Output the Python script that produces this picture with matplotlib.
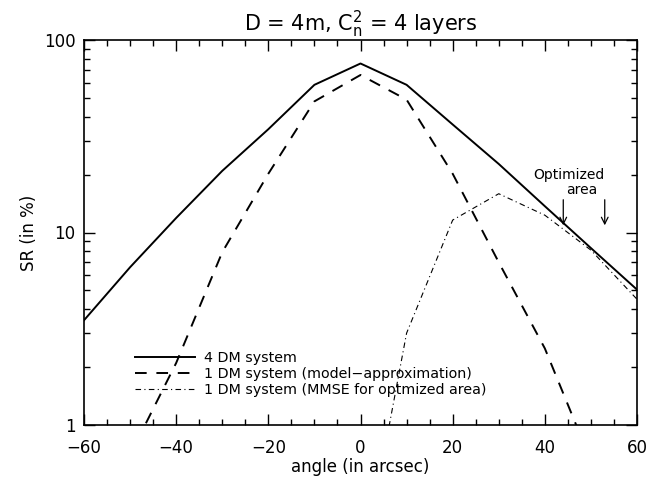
import numpy as np
import matplotlib
matplotlib.use("Agg")
import matplotlib.pyplot as plt
from matplotlib.ticker import MultipleLocator, LogLocator, NullFormatter, FixedFormatter, FixedLocator

# angle (arcsec) vs Strehl ratio (%)
angle = [-60, -50, -40, -30, -20, -10, 0, 10, 20, 30, 40, 50, 60]
sr_4dm = [3.5, 6.6, 11.9, 20.9, 34.4, 58.5, 75.5, 58.5, 36.4, 22.7, 13.7, 8.3, 5.05]
sr_1dm_model = [0.3, 0.7, 2.1, 7.9, 20.2, 48.0, 65.8, 49.0, 20.2, 7.0, 2.5, 0.65, 0.2]

angle_mmse = [0, 10, 20, 30, 40, 50, 60]
sr_1dm_mmse = [0.16, 3.0, 11.6, 15.9, 12.3, 8.1, 4.5]

# optimized area marks
opt_angles = [44, 53]

plt.rcParams['font.family'] = 'DejaVu Sans'
plt.rcParams['mathtext.fontset'] = 'dejavusans'

fig = plt.figure(figsize=(6.64, 4.78), dpi=100)
ax = fig.add_axes([84 / 664, 1 - 425 / 478, 553 / 664, 385 / 478])

ax.plot(angle, sr_4dm, color='black', lw=1.4, label='4 DM system')
ax.plot(angle, sr_1dm_model, color='black', lw=1.4, linestyle=(0, (6, 5)),
        label='1 DM system (model\u2212approximation)')
ax.plot(angle_mmse, sr_1dm_mmse, color='black', lw=0.8, linestyle=(0, (5, 3, 1, 3)),
        label='1 DM system (MMSE for optmized area)')

ax.set_yscale('log')
ax.set_xlim(-60, 60)
ax.set_ylim(1, 100)

ax.xaxis.set_major_locator(MultipleLocator(20))
ax.xaxis.set_minor_locator(MultipleLocator(5))
ax.yaxis.set_major_locator(FixedLocator([1, 10, 100]))
ax.yaxis.set_major_formatter(FixedFormatter(['1', '10', '100']))
ax.yaxis.set_minor_locator(LogLocator(base=10, subs=np.arange(2, 10)))
ax.yaxis.set_minor_formatter(NullFormatter())
ax.tick_params(which='both', direction='in', top=True, right=True, labelsize=12, width=1)
ax.tick_params(which='major', length=8, pad=6)
ax.tick_params(axis='x', which='major', pad=10)
ax.tick_params(which='minor', length=4)
for s in ax.spines.values():
    s.set_linewidth(1.2)

ax.set_xlabel('angle (in arcsec)', fontsize=12, labelpad=1)
ax.set_ylabel('SR (in %)', fontsize=12, labelpad=4)
ax.set_title(r'D = 4m, C$_\mathrm{n}^\mathrm{2}$ = 4 layers', fontsize=15, pad=6)

for a in opt_angles:
    ax.annotate('', xy=(a, 10.9), xytext=(a, 14.8),
                arrowprops=dict(arrowstyle='->', color='black', lw=0.9,
                                mutation_scale=12, shrinkA=0, shrinkB=0))
ax.text(45.2, 19.9, 'Optimized', fontsize=10, ha='center', va='center')
ax.text(48.1, 16.6, 'area', fontsize=10, ha='center', va='center')

ax.legend(loc='center left', bbox_to_anchor=((135 - 84) / 553, (425 - 374) / 385),
          frameon=False, fontsize=10.3, handlelength=4.2, handletextpad=0.6,
          labelspacing=0.15, borderpad=0, borderaxespad=0)

fig.savefig('out.png', dpi=100)
